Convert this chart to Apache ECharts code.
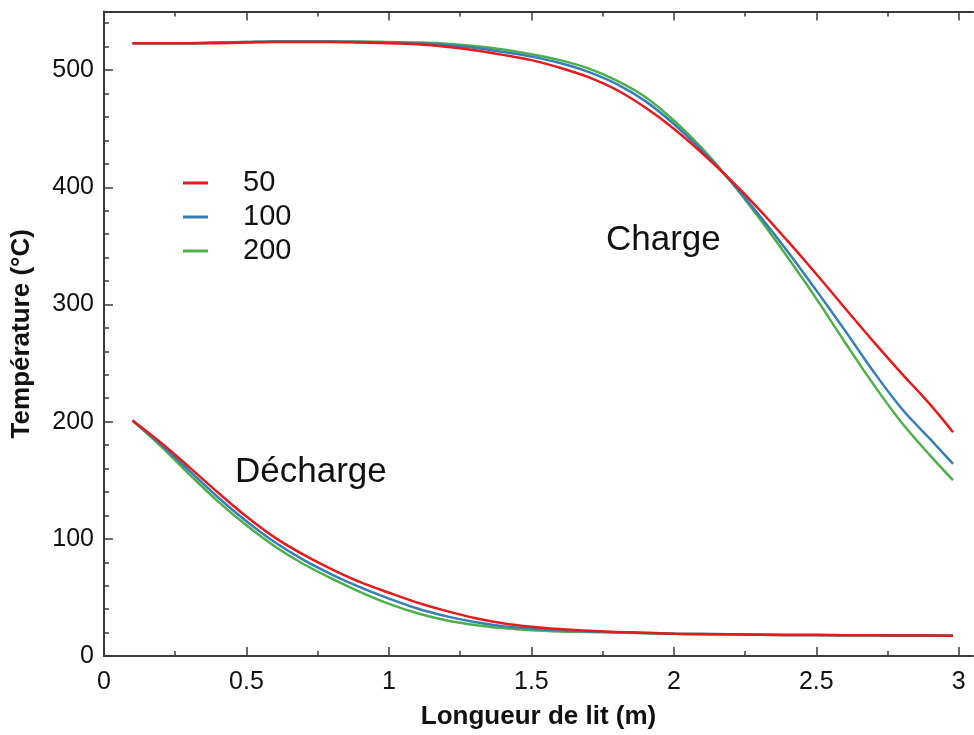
<!DOCTYPE html>
<html>
<head>
<meta charset="utf-8">
<script src="https://cdn.jsdelivr.net/npm/echarts@6/dist/echarts.min.js"></script>
<style>
html,body{margin:0;padding:0;background:#fff;}
#chart{width:974px;height:735px;}
</style>
</head>
<body>
<div id="chart"></div>
<script>
// ---- data ----
const seriesNames = ['50', '100', '200'];
const xMajor = [0, 0.5, 1, 1.5, 2, 2.5, 3];
const xMinor = [0.25, 0.75, 1.25, 1.75, 2.25, 2.75];
const yMajor = [0, 100, 200, 300, 400, 500];
const yMinor = [20, 40, 60, 80, 120, 140, 160, 180, 220, 240, 260, 280, 320, 340, 360, 380, 420, 440, 460, 480, 520, 540];

const chargeX   = [0.1, 0.2, 0.3, 0.4, 0.5, 0.6, 0.7, 0.8, 0.9, 1.0, 1.1, 1.2, 1.3, 1.4, 1.5, 1.6, 1.7, 1.8, 1.9, 2.0, 2.1, 2.2, 2.3, 2.4, 2.5, 2.6, 2.7, 2.8, 2.9, 2.98];
const charge50  = [523, 523, 523, 523, 523.5, 524, 524, 524, 523.5, 523, 522, 520, 517, 513, 508.5, 502, 494, 483, 468, 450, 429, 406, 381, 354, 326, 297, 268.5, 241, 214.5, 191];
const charge100 = [523, 523, 523, 523.5, 524, 524.5, 524.5, 524.5, 524, 523.5, 523, 521.5, 519, 515.5, 511.5, 506, 498.5, 488, 473.5, 454, 431, 405, 376, 345, 312, 278, 243, 211, 185, 164];
const charge200 = [523, 523, 523, 523.5, 524, 524.5, 524.5, 524.5, 524.5, 524, 523.5, 522.5, 520.5, 517.5, 513.5, 508.5, 501.5, 491, 477, 457, 433, 405, 373.5, 340, 305, 268, 232, 199, 171, 150];

const dechargeX   = [0.1, 0.2, 0.3, 0.4, 0.5, 0.6, 0.7, 0.8, 0.9, 1.0, 1.1, 1.2, 1.3, 1.4, 1.5, 1.6, 1.7, 1.8, 2.0, 2.2, 2.4, 2.6, 2.8, 2.98];
const decharge50  = [201, 182, 161, 139.5, 119, 101, 86.5, 74, 63, 54, 45.5, 38.5, 32.5, 28, 25, 23, 21.5, 20.5, 19, 18.5, 18, 17.8, 17.5, 17.3];
const decharge100 = [201, 180.5, 158, 135.5, 115, 97, 82, 69.5, 58.5, 49, 40.5, 34, 29, 25.5, 23.5, 22, 21, 20.3, 19, 18.5, 18, 17.8, 17.5, 17.3];
const decharge200 = [201, 179, 155, 132, 111.5, 93.5, 78.5, 66, 54.5, 44.5, 36.5, 30.5, 26.5, 23.8, 22, 21, 20.5, 20, 19, 18.5, 18, 17.8, 17.5, 17.3];

const colors = ['#e41a1c', '#377eb8', '#4daf4a'];
const FONT = "'Liberation Sans', Arial, sans-serif";

function pairs(xs, ys) { return xs.map((x, i) => [x, ys[i]]); }

const chargeSets = [charge50, charge100, charge200];
const dechargeSets = [decharge50, decharge100, decharge200];

const axisColor = '#3a3a3a';

function xAx(position, values, len, showLine, showLabel, extra) {
  return Object.assign({
    type: 'value', min: 0, max: 3.05, position: position,
    splitLine: { show: false },
    axisLine: { show: showLine, onZero: false, lineStyle: { color: axisColor, width: 2 } },
    axisTick: { show: true, inside: true, length: len, customValues: values, lineStyle: { color: axisColor, width: 1.5 } },
    axisLabel: { show: showLabel, customValues: values, fontSize: 25, color: '#111', fontFamily: FONT, margin: 14,
                 formatter: v => String(v) }
  }, extra || {});
}
function yAx(values, len, showLine, showLabel, extra) {
  return Object.assign({
    type: 'value', min: 0, max: 550, position: 'left',
    splitLine: { show: false },
    axisLine: { show: showLine, onZero: false, lineStyle: { color: axisColor, width: 2 } },
    axisTick: { show: true, inside: true, length: len, customValues: values, lineStyle: { color: axisColor, width: 1.5 } },
    axisLabel: { show: showLabel, customValues: values, fontSize: 25, color: '#111', fontFamily: FONT, margin: 10,
                 formatter: v => String(v) }
  }, extra || {});
}

const series = [];
seriesNames.forEach((name, i) => {
  [chargeSets, dechargeSets].forEach((sets, k) => {
    const xs = k === 0 ? chargeX : dechargeX;
    series.push({
      name: name, type: 'line', xAxisIndex: 0, yAxisIndex: 0,
      data: pairs(xs, sets[i]), smooth: 0.35, symbol: 'none',
      lineStyle: { color: colors[i], width: 2.5 }, itemStyle: { color: colors[i] }, z: 3 - i
    });
  });
});

const chart = echarts.init(document.getElementById('chart'), null, { renderer: 'canvas' });
chart.setOption({
  animation: false,
  backgroundColor: '#fff',
  grid: { left: 104, right: 1, top: 11.5, bottom: 79, containLabel: false },
  xAxis: [
    xAx('bottom', xMajor, 9, true, true, {
      name: 'Longueur de lit (m)', nameLocation: 'middle', nameGap: 48,
      nameTextStyle: { fontSize: 26, fontWeight: 'bold', color: '#111', fontFamily: FONT }
    }),
    xAx('bottom', xMinor, 5, false, false),
    xAx('top', xMajor, 9, true, false),
    xAx('top', xMinor, 5, false, false)
  ],
  yAxis: [
    yAx(yMajor, 9, true, true, {
      name: 'Température (°C)', nameLocation: 'middle', nameGap: 69,
      nameTextStyle: { fontSize: 26, fontWeight: 'bold', color: '#111', fontFamily: FONT }
    }),
    yAx(yMinor, 5, false, false)
  ],
  legend: {
    data: seriesNames,
    orient: 'vertical', left: 178, top: 163,
    itemWidth: 25, itemHeight: 14, itemGap: 4,
    icon: 'path://M0,6 L25,6 L25,9 L0,9 Z',
    textStyle: { fontSize: 29, color: '#111', fontFamily: FONT, lineHeight: 30, padding: [0, 0, 0, 30] }
  },
  graphic: [
    { type: 'text', left: 606, top: 223, style: { text: 'Charge', font: "35px 'Liberation Sans', Arial, sans-serif", fill: '#111' } },
    { type: 'text', left: 235, top: 455, style: { text: 'Décharge', font: "35px 'Liberation Sans', Arial, sans-serif", fill: '#111' } }
  ],
  series: series
});
</script>
</body>
</html>
